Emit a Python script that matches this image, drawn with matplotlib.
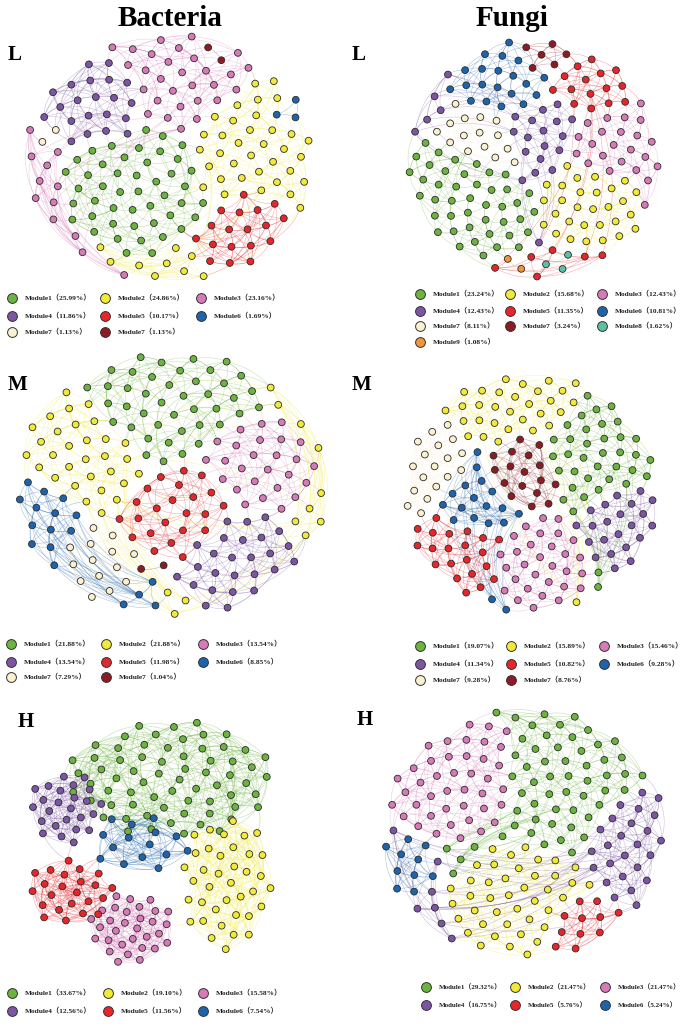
import numpy as np
import matplotlib
matplotlib.use("Agg")
import matplotlib.pyplot as plt
from matplotlib.collections import LineCollection
from matplotlib.colors import to_rgba

W, H, DPI = 685, 1028, 100

# ---------------- data ----------------
PALETTE = {
    "green": "#6cb33f", "yellow": "#f2ea3a", "pink": "#d77ab8", "purple": "#7d55a5",
    "red": "#e6262b", "blue": "#1e64ad", "cream": "#fbf0d0", "darkred": "#8c1c22",
    "teal": "#5fbfa5", "orange": "#f1943a",
}

bacL_labels = ["Module1", "Module2", "Module3", "Module4", "Module5", "Module6", "Module7", "Module7"]
bacL_pct = [25.99, 24.86, 23.16, 11.86, 10.17, 1.69, 1.13, 1.13]
bacL_colors = ["green", "yellow", "pink", "purple", "red", "blue", "cream", "darkred"]
bacL_total = 177

funL_labels = ["Module1", "Module2", "Module3", "Module4", "Module5", "Module6", "Module7", "Module7", "Module8", "Module9"]
funL_pct = [23.24, 15.68, 12.43, 12.43, 11.35, 10.81, 8.11, 3.24, 1.62, 1.08]
funL_colors = ["green", "yellow", "pink", "purple", "red", "blue", "cream", "darkred", "teal", "orange"]
funL_total = 185

bacM_labels = ["Module1", "Module2", "Module3", "Module4", "Module5", "Module6", "Module7", "Module7"]
bacM_pct = [21.88, 21.88, 13.54, 13.54, 11.98, 8.85, 7.29, 1.04]
bacM_colors = ["green", "yellow", "pink", "purple", "red", "blue", "cream", "darkred"]
bacM_total = 192

funM_labels = ["Module1", "Module2", "Module3", "Module4", "Module5", "Module6", "Module7", "Module7"]
funM_pct = [19.07, 15.89, 15.46, 11.34, 10.82, 9.28, 9.28, 8.76]
funM_colors = ["green", "yellow", "pink", "purple", "red", "blue", "cream", "darkred"]
funM_total = 194

bacH_labels = ["Module1", "Module2", "Module3", "Module4", "Module5", "Module6"]
bacH_pct = [33.67, 19.10, 15.58, 12.56, 11.56, 7.54]
bacH_colors = ["green", "yellow", "pink", "purple", "red", "blue"]
bacH_total = 199

funH_labels = ["Module1", "Module2", "Module3", "Module4", "Module5", "Module6"]
funH_pct = [29.32, 21.47, 21.47, 16.75, 5.76, 5.24]
funH_colors = ["green", "yellow", "pink", "purple", "red", "blue"]
funH_total = 191


def counts_of(pct, total):
    return [int(round(p * total / 100.0)) for p in pct]


# ---------------- layout helpers ----------------
GOLD = np.pi * (3 - np.sqrt(5))


def sunflower(n):
    i = np.arange(n)
    r = np.sqrt((i + 0.5) / n)
    th = i * GOLD
    return np.c_[r * np.cos(th), r * np.sin(th)]


def pair_layout(counts, centers):
    """Capacity-limited nearest assignment of a sunflower grid to module centres."""
    pts = sunflower(sum(counts))
    C = np.array(centers, dtype=float)
    D = np.hypot(pts[:, None, 0] - C[None, :, 0], pts[:, None, 1] - C[None, :, 1])
    order = np.argsort(D, axis=None, kind="stable")
    mod = np.full(len(pts), -1)
    left = list(counts)
    for flat in order:
        i, m = divmod(int(flat), len(counts))
        if mod[i] < 0 and left[m] > 0:
            mod[i] = m
            left[m] -= 1
    return pts, mod


def cluster_layout(counts, centers, scales, spacing):
    P, M = [], []
    for m, c in enumerate(counts):
        p = sunflower(c) * spacing * np.sqrt(c)
        p = p * np.array(scales[m]) + np.array(centers[m])
        P.append(p)
        M += [m] * c
    return np.vstack(P), np.array(M)


def build_edges(pts, mod, k, between_step, far=True):
    edges = set()
    for m in np.unique(mod):
        idx = np.where(mod == m)[0]
        P = pts[idx]
        D = np.hypot(P[:, None, 0] - P[None, :, 0], P[:, None, 1] - P[None, :, 1])
        for a in range(len(idx)):
            order = np.argsort(D[a], kind="stable")
            nb = list(order[1:k + 1])
            if far and len(order) > 2 * k + 1:
                nb.append(order[2 * k])
            for b in nb:
                i, j = idx[a], idx[b]
                edges.add((min(i, j), max(i, j), m))
    for i in range(0, len(pts), between_step):
        other = np.where(mod != mod[i])[0]
        if len(other) == 0:
            continue
        d = np.hypot(*(pts[other] - pts[i]).T)
        j = other[np.argmin(d)]
        edges.add((min(i, j), max(i, j), mod[i]))
    return sorted(edges)


def curve(p0, p1, bend=0.18, n=12):
    mid = (p0 + p1) / 2
    d = p1 - p0
    perp = np.array([-d[1], d[0]])
    if np.dot(perp, mid) < 0:
        perp = -perp
    c = mid + bend * perp
    t = np.linspace(0, 1, n)[:, None]
    return (1 - t) ** 2 * p0 + 2 * (1 - t) * t * c + t ** 2 * p1


def draw_network(fig, box, pts, mod, colors, k, between_step, alpha=0.38):
    x0, y0, x1, y1 = box
    ax = fig.add_axes([x0 / W, 1 - y1 / H, (x1 - x0) / W, (y1 - y0) / H])
    ax.set_xlim(-1, 1)
    ax.set_ylim(-1, 1)
    ax.axis("off")
    ax.patch.set_alpha(0)
    edges = build_edges(pts, mod, k, between_step)
    segs, cols = [], []
    for i, j, m in edges:
        segs.append(curve(pts[i], pts[j]))
        cols.append(to_rgba(PALETTE[colors[m]], alpha))
    lc = LineCollection(segs, colors=cols, linewidths=0.4, zorder=1)
    lc.set_clip_on(False)
    ax.add_collection(lc)
    ax.scatter(pts[:, 0], pts[:, 1], s=24, c=[PALETTE[colors[m]] for m in mod],
               edgecolors="#2b2b2b", linewidths=0.6, zorder=3, clip_on=False)
    return ax


# ---------------- figure ----------------
fig = plt.figure(figsize=(W / DPI, H / DPI), dpi=DPI)
fig.patch.set_facecolor("white")
over = fig.add_axes([0, 0, 1, 1])
over.set_xlim(0, W)
over.set_ylim(H, 0)
over.axis("off")

SERIF = ["Liberation Serif", "DejaVu Serif"]
LEGF = ["Liberation Serif", "Noto Sans CJK SC"]

over.text(170, 19, "Bacteria", fontsize=21, fontweight="bold", family=SERIF, ha="center", va="center")
over.text(512, 19, "Fungi", fontsize=21, fontweight="bold", family=SERIF, ha="center", va="center")
for (x, y, s) in [(8, 55, "L"), (352, 55, "L"), (8, 385, "M"), (352, 385, "M"), (18, 722, "H"), (357, 720, "H")]:
    over.text(x, y, s, fontsize=15, fontweight="bold", family=SERIF, ha="left", va="center")


def legend(labels, pct, colors, xs, ys, fs=5.3):
    for n, (lab, p, c) in enumerate(zip(labels, pct, colors)):
        x = xs[n % 3]
        y = ys[n // 3]
        over.scatter([x], [y], s=50, c=PALETTE[c], edgecolors="#333333", linewidths=0.7, zorder=3)
        over.text(x + 13, y, f"{lab}（{p:.2f}%）", fontsize=fs, fontweight="bold",
                  family=LEGF, ha="left", va="center", color="#222222")


legend(bacL_labels, bacL_pct, bacL_colors, [12, 105, 201], [298, 316, 332])
legend(funL_labels, funL_pct, funL_colors, [420, 510, 602], [294, 311, 326, 342])
legend(bacM_labels, bacM_pct, bacM_colors, [11, 106, 203], [644, 662, 677])
legend(funM_labels, funM_pct, funM_colors, [420, 511, 604], [646, 664, 680])
legend(bacH_labels, bacH_pct, bacH_colors, [12, 108, 203], [993, 1011])
legend(funH_labels, funH_pct, funH_colors, [426, 515, 605], [987, 1005], fs=5.0)

# ---- Bacteria L
c = counts_of(bacL_pct, bacL_total)
pts, mod = pair_layout(c, [(-0.2, -0.2), (0.55, 0.05), (0.0, 0.7), (-0.55, 0.45),
                           (0.5, -0.6), (0.9, 0.4), (-0.85, 0.2), (0.3, 0.9)])
draw_network(fig, (25, 35, 315, 283), pts, mod, bacL_colors, 7, 3)

# ---- Fungi L
c = counts_of(funL_pct, funL_total)
pts, mod = pair_layout(c, [(-0.5, -0.25), (0.45, -0.35), (0.6, 0.15), (0.0, 0.2), (0.45, 0.65),
                           (-0.25, 0.65), (-0.35, 0.15), (0.1, 0.9), (0.25, -0.95), (-0.2, -0.95)])
draw_network(fig, (408, 40, 660, 278), pts, mod, funL_colors, 5, 2)

# ---- Bacteria M
c = counts_of(bacM_pct, bacM_total)
pts, mod = pair_layout(c, [(0.0, 0.55), (-0.6, 0.15), (0.55, 0.15), (0.45, -0.55), (0.0, -0.2),
                           (-0.85, -0.3), (-0.45, -0.6), (-0.1, -0.6)])
draw_network(fig, (15, 352, 327, 618), pts, mod, bacM_colors, 7, 3)

# ---- Fungi M
c = counts_of(funM_pct, funM_total)
pts, mod = pair_layout(c, [(0.45, 0.3), (-0.1, 0.8), (0.05, -0.6), (0.7, -0.3), (-0.55, -0.5),
                           (-0.4, -0.05), (-0.8, 0.2), (-0.05, 0.15)])
draw_network(fig, (403, 374, 658, 612), pts, mod, funM_colors, 7, 3)

# ---- Bacteria H (separated modules)
c = counts_of(bacH_pct, bacH_total)
pts, mod = cluster_layout(c, [(0.14, 0.52), (0.58, -0.34), (-0.17, -0.72), (-0.7, 0.28), (-0.66, -0.42), (-0.1, -0.02)],
                          [(1.38, 0.8), (0.82, 1.22), (0.81, 0.74), (0.83, 0.8), (0.97, 0.8), (1.4, 0.9)], 0.075)
draw_network(fig, (28, 722, 278, 962), pts, mod, bacH_colors, 12, 4, alpha=0.42)

# ---- Fungi H
c = counts_of(funH_pct, funH_total)
pts, mod = pair_layout(c, [(0.3, 0.3), (0.0, -0.6), (-0.55, 0.45), (0.85, -0.1), (0.45, -0.8), (-0.85, -0.25)])
draw_network(fig, (382, 708, 666, 958), pts, mod, funH_colors, 8, 3)

fig.savefig("out.png", dpi=DPI, facecolor="white")
